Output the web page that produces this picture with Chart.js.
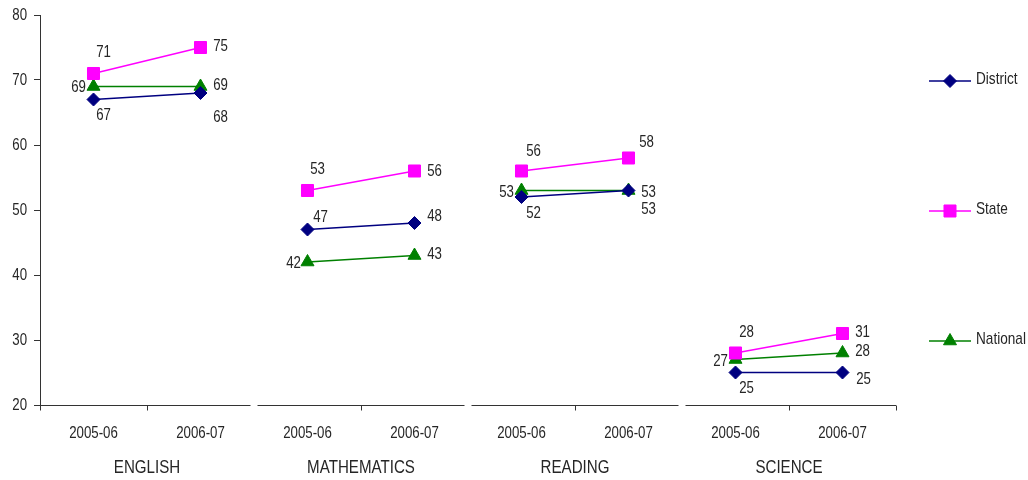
<!DOCTYPE html>
<html>
<head>
<meta charset="utf-8">
<script src="https://cdn.jsdelivr.net/npm/chart.js@4.4.1/dist/chart.umd.min.js"></script>
<style>
  html, body { margin: 0; padding: 0; background: #ffffff; }
  #wrap { width: 1028px; height: 480px; position: relative; }
</style>
</head>
<body>
<div id="wrap"><canvas id="c"></canvas></div>
<script>
// Subject groups and school years along the bottom
const subjects = ['ENGLISH', 'MATHEMATICS', 'READING', 'SCIENCE'];
const years = ['2005-06', '2006-07'];

// Percent scores, two years per subject, in subject order
const district = [67, 68, 47, 48, 52, 53, 25, 25];
const state    = [71, 75, 53, 56, 56, 58, 28, 31];
const national = [69, 69, 42, 43, 53, 53, 27, 28];

// Value axis ticks
const yTicks = [20, 30, 40, 50, 60, 70, 80];

// Where each value label sits relative to its marker (pixels)
const labelOffsets = [
  [[10, 16], [20, 24], [13, -12], [20, -7], [12, 16], [20, 2], [11, 16], [21, 7]],     // District
  [[10, -21], [20, -1], [10, -21], [20, 0], [12, -20], [18, -16], [11, -21], [20, -1]], // State
  [[-15, 1], [20, -1], [-14, 1], [20, -1], [-15, 2], [20, 19], [-15, 2], [20, -2]]      // National
];

const FAMILY = "'Liberation Sans', Arial, sans-serif";
const TEXT = '#262626';
const AXIS = '#333333';

// Draw text condensed horizontally around its anchor point
function narrowText(ctx, text, x, y, size, squeeze, align) {
  ctx.save();
  ctx.font = size + 'px ' + FAMILY;
  ctx.fillStyle = TEXT;
  ctx.textAlign = align || 'center';
  ctx.textBaseline = 'middle';
  ctx.translate(x, y);
  ctx.scale(squeeze, 1);
  ctx.fillText(text, 0, 0);
  ctx.restore();
}

// Each subject occupies two units on the x scale; a null point breaks the line between subjects
function toPoints(vals) {
  const out = [];
  vals.forEach((v, i) => {
    out.push({ x: i + 0.5, y: v });
    if (i % 2 === 1 && i < vals.length - 1) out.push({ x: i + 1, y: null });
  });
  return out;
}

const series = [
  { label: 'District', values: district, color: '#000080', style: 'rectRot', radius: 6.5 },
  { label: 'State',    values: state,    color: '#FF00FF', style: 'rect',    radius: 8.5 },
  { label: 'National', values: national, color: '#008000', style: 'triangle', radius: 7.5 }
];

// Broken category axis with its labels: one segment per subject
const axisPlugin = {
  id: 'splitAxis',
  afterDraw(chart) {
    const { ctx, chartArea } = chart;
    const xs = chart.scales.x;
    const xg = chart.scales.xg;
    const ys = chart.scales.y;
    const y = Math.round(chartArea.bottom) + 0.5;
    const gap = 3.5;
    ctx.save();
    ctx.strokeStyle = AXIS;
    ctx.lineWidth = 1;
    for (let g = 0; g < subjects.length; g++) {
      let a = xs.getPixelForValue(g * 2);
      let b = xs.getPixelForValue(g * 2 + 2);
      if (g > 0) a += gap;
      if (g < subjects.length - 1) b -= gap;
      ctx.beginPath();
      ctx.moveTo(a, y);
      ctx.lineTo(b, y);
      ctx.stroke();
    }
    [0, 1, 3, 5, 7, 8].forEach(v => {
      const px = Math.round(xs.getPixelForValue(v)) + 0.5;
      ctx.beginPath();
      ctx.moveTo(px, y);
      ctx.lineTo(px, y + 5);
      ctx.stroke();
    });
    ctx.restore();

    // year labels under each point, subject names under each pair
    xs.ticks.forEach(t => {
      narrowText(ctx, years[Math.floor(t.value) % 2], xs.getPixelForValue(t.value), chartArea.bottom + 28, 17, 0.78, 'center');
    });
    xg.ticks.forEach(t => {
      narrowText(ctx, subjects[(t.value - 1) / 2], xg.getPixelForValue(t.value), chartArea.bottom + 63, 18, 0.84, 'center');
    });
    // value axis labels
    ys.ticks.forEach(t => {
      narrowText(ctx, String(t.value), chartArea.left - 13, ys.getPixelForValue(t.value), 17, 0.78, 'right');
    });
  }
};

// Value labels beside each marker
const valueLabelPlugin = {
  id: 'valueLabels',
  afterDatasetsDraw(chart) {
    const { ctx } = chart;
    chart.data.datasets.forEach((ds, d) => {
      const meta = chart.getDatasetMeta(d);
      let k = 0;
      meta.data.forEach((el, j) => {
        const pt = ds.data[j];
        if (pt.y === null) return;
        const [dx, dy] = labelOffsets[d][k++];
        narrowText(ctx, String(pt.y), el.x + dx, el.y + dy, 17, 0.78, 'center');
      });
    });
  }
};

// Legend column to the right of the plot: line with marker, then the name
const sideLegendPlugin = {
  id: 'sideLegend',
  afterDraw(chart) {
    const { ctx, chartArea } = chart;
    const h = chartArea.bottom - chartArea.top;
    const x0 = chartArea.right + 33;
    chart.data.datasets.forEach((ds, i) => {
      const y = chartArea.top + h * (2 * i + 1) / 6 + 1;
      ctx.save();
      ctx.strokeStyle = ds.borderColor;
      ctx.lineWidth = ds.borderWidth;
      ctx.beginPath();
      ctx.moveTo(x0, y);
      ctx.lineTo(x0 + 42, y);
      ctx.stroke();
      ctx.fillStyle = ds.pointBackgroundColor;
      ctx.strokeStyle = ds.pointBorderColor;
      ctx.lineWidth = 1;
      Chart.helpers.drawPoint(ctx, {
        pointStyle: ds.pointStyle, rotation: 0, radius: ds.pointRadius, borderWidth: 1
      }, x0 + 21, y);
      ctx.restore();
      narrowText(ctx, ds.label, x0 + 47, y - 2, 17, 0.8, 'left');
    });
  }
};

new Chart(document.getElementById('c'), {
  type: 'line',
  data: {
    datasets: series.map(s => ({
      label: s.label,
      data: toPoints(s.values),
      borderColor: s.color,
      backgroundColor: s.color,
      borderWidth: 1.5,
      pointStyle: s.style,
      pointRadius: s.radius,
      pointHoverRadius: s.radius,
      pointBackgroundColor: s.color,
      pointBorderColor: s.color,
      pointBorderWidth: 1,
      spanGaps: false,
      tension: 0,
      fill: false
    }))
  },
  options: {
    responsive: true,
    maintainAspectRatio: false,
    animation: false,
    events: [],
    layout: { padding: { top: 15, right: 132, left: 0, bottom: 0 } },
    plugins: {
      legend: { display: false },
      tooltip: { enabled: false }
    },
    scales: {
      x: {
        type: 'linear',
        position: 'bottom',
        min: 0,
        max: 8,
        grid: { display: false, drawTicks: false },
        border: { display: false },
        afterBuildTicks: s => { s.ticks = district.map((_, i) => ({ value: i + 0.5 })); },
        afterFit: s => { s.height = 37; },
        ticks: { display: false, autoSkip: false }
      },
      xg: {
        type: 'linear',
        position: 'bottom',
        min: 0,
        max: 8,
        grid: { display: false, drawTicks: false },
        border: { display: false },
        afterBuildTicks: s => { s.ticks = subjects.map((_, g) => ({ value: g * 2 + 1 })); },
        afterFit: s => { s.height = 38; },
        ticks: { display: false, autoSkip: false }
      },
      y: {
        min: 20,
        max: 80,
        afterBuildTicks: s => { s.ticks = yTicks.map(v => ({ value: v })); },
        afterFit: s => { s.width = 40; },
        grid: { drawOnChartArea: false, drawTicks: true, tickLength: 6, color: AXIS, lineWidth: 1 },
        border: { display: true, color: AXIS, width: 1 },
        ticks: { display: false }
      }
    }
  },
  plugins: [axisPlugin, valueLabelPlugin, sideLegendPlugin]
});
</script>
</body>
</html>
